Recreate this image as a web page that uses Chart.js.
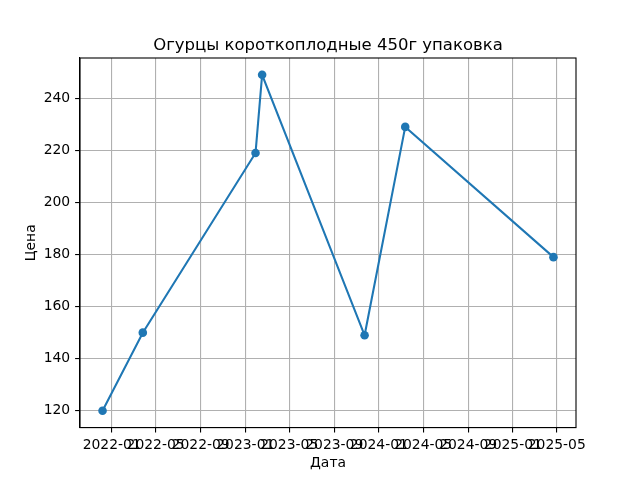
<!DOCTYPE html>
<html>
<head>
<meta charset="utf-8">
<script src="https://cdn.jsdelivr.net/npm/chart.js@4/dist/chart.umd.min.js"></script>
<style>
  html, body { margin: 0; padding: 0; background: #fff; }
  canvas { display: block; }
</style>
</head>
<body>
<canvas id="c" width="640" height="480"></canvas>
<script>
const dates = ['2021-12-07', '2022-03-27', '2023-01-29', '2023-02-16', '2023-11-23', '2024-03-13', '2025-04-22'];
const prices = [120, 150, 219, 249, 149, 229, 179];
const xTickLabels = ['2022-01', '2022-05', '2022-09', '2023-01', '2023-05', '2023-09', '2024-01', '2024-05', '2024-09', '2025-01', '2025-05'];
const yTickValues = [120, 140, 160, 180, 200, 220, 240];
const titleText = 'Огурцы короткоплодные 450г упаковка';
const xLabel = 'Дата';
const yLabel = 'Цена';

const FONT = "'DejaVu Sans', sans-serif";
const toMs = s => Date.parse(s.length === 7 ? s + '-01T00:00:00Z' : s + 'T00:00:00Z');
const xs = dates.map(toMs);
const pts = xs.map((x, i) => ({ x: x, y: prices[i] }));

const xMinD = Math.min(...xs), xMaxD = Math.max(...xs);
const xPad = (xMaxD - xMinD) * 0.05;
const yMinD = Math.min(...prices), yMaxD = Math.max(...prices);
const yPad = (yMaxD - yMinD) * 0.05;

const fmt = v => {
  const d = new Date(v);
  return d.getUTCFullYear() + '-' + String(d.getUTCMonth() + 1).padStart(2, '0');
};

const framePlugin = {
  id: 'frame',
  afterDraw(chart) {
    const { ctx, chartArea: a } = chart;
    ctx.save();
    ctx.strokeStyle = '#000';
    ctx.lineWidth = 1.1;
    ctx.strokeRect(a.left, a.top, a.right - a.left, a.bottom - a.top);
    ctx.fillStyle = '#000';
    ctx.textAlign = 'center';
    ctx.textBaseline = 'alphabetic';
    ctx.font = '16.5px ' + FONT;
    ctx.fillText(titleText, (a.left + a.right) / 2, a.top - 8.3);
    ctx.font = '13.9px ' + FONT;
    ctx.textBaseline = 'middle';
    ctx.fillText(xLabel, (a.left + a.right) / 2, 463);
    ctx.translate(31, (a.top + a.bottom) / 2);
    ctx.rotate(-Math.PI / 2);
    ctx.fillText(yLabel, 0, 0);
    ctx.restore();
  }
};

new Chart(document.getElementById('c'), {
  type: 'line',
  data: {
    datasets: [{
      data: pts,
      borderColor: '#1f77b4',
      backgroundColor: '#1f77b4',
      borderWidth: 2.08,
      pointRadius: 4.3,
      pointHoverRadius: 4.3,
      pointBorderWidth: 0,
      pointBackgroundColor: '#1f77b4',
      tension: 0,
      fill: false
    }]
  },
  options: {
    responsive: false,
    animation: false,
    devicePixelRatio: 1,
    layout: { padding: { top: 58, right: 64, left: 0, bottom: 0 } },
    plugins: { legend: { display: false }, title: { display: false }, tooltip: { enabled: false } },
    scales: {
      x: {
        type: 'linear',
        min: xMinD - xPad,
        max: xMaxD + xPad,
        afterBuildTicks: s => { s.ticks = xTickLabels.map(l => ({ value: toMs(l) })); },
        afterFit: s => { s.height = 52.4; },
        grid: { color: '#b0b0b0', lineWidth: 1.1, tickColor: '#000', tickLength: 4.9, drawTicks: true },
        border: { color: '#000', width: 1.1 },
        ticks: {
          autoSkip: false, maxRotation: 0, minRotation: 0, padding: 4.9,
          color: '#000', font: { family: FONT, size: 13.9 },
          callback: v => fmt(v)
        }
      },
      y: {
        type: 'linear',
        min: yMinD - yPad,
        max: yMaxD + yPad,
        afterBuildTicks: s => { s.ticks = yTickValues.map(v => ({ value: v })); },
        afterFit: s => { s.width = 80; },
        grid: { color: '#b0b0b0', lineWidth: 1.1, tickColor: '#000', tickLength: 4.9, drawTicks: true },
        border: { color: '#000', width: 1.1 },
        ticks: {
          padding: 4.9, color: '#000', font: { family: FONT, size: 13.9 },
          callback: v => String(v)
        }
      }
    }
  },
  plugins: [framePlugin]
});
</script>
</body>
</html>
